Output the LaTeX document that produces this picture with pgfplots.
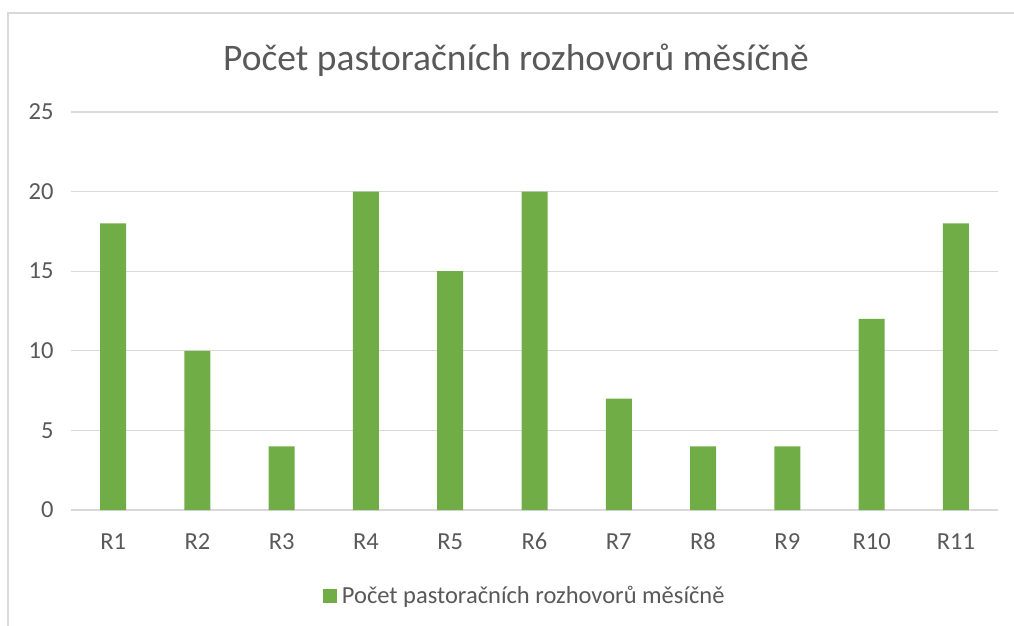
\documentclass[border=0pt]{standalone}
\usepackage{pgfplots}
\pgfplotsset{compat=1.18}
\usepackage{fontspec}
\setmainfont{Carlito}
\definecolor{barg}{HTML}{70AD47}
\definecolor{gridc}{HTML}{D9D9D9}
\definecolor{txt}{HTML}{595959}
\begin{document}
\begin{tikzpicture}[x=1pt,y=1pt]
\path[use as bounding box] (0,0) rectangle (1014,626);
\draw[gridc,line width=2pt] (8,0) -- (8,612.5) -- (1014,612.5);
\node[txt,font=\fontsize{37.5}{44}\selectfont] at (516,566) {Počet pastoračních rozhovorů měsíčně};
\begin{axis}[
  at={(71pt,116pt)}, anchor=south west,
  scale only axis, width=927pt, height=398pt,
  ymin=0, ymax=25, ytick={0,5,10,15,20,25},
  xmin=-0.5, xmax=10.5, xtick=data,
  xticklabels={R1,R2,R3,R4,R5,R6,R7,R8,R9,R10,R11},
  axis line style={draw=none},
  axis x line*=bottom,
  x axis line style={draw=gridc,line width=1.5pt},
  ymajorgrids, grid style={gridc,line width=1.2pt},
  major tick length=0pt,
  tick label style={txt,font=\fontsize{24.5}{28}\selectfont},
  /pgf/number format/assume math mode=true,
  yticklabel style={anchor=east,xshift=-14pt},
  xticklabel style={anchor=north,yshift=-19pt,text height=17pt,text depth=0pt},
  legend style={at={(0.4895,-0.215)},anchor=center,draw=none,font=\fontsize{24.5}{28}\selectfont,text=txt},
  legend image code/.code={\fill[barg] (0pt,-7pt) rectangle (14pt,7pt);},
]
\addplot[ybar,bar width=26pt,fill=barg,draw=none] coordinates {
(0,18) (1,10) (2,4) (3,20) (4,15) (5,20) (6,7) (7,4) (8,4) (9,12) (10,18)};
\addlegendentry{\hspace{3pt}Počet pastoračních rozhovorů měsíčně}
\end{axis}
\end{tikzpicture}
\end{document}
